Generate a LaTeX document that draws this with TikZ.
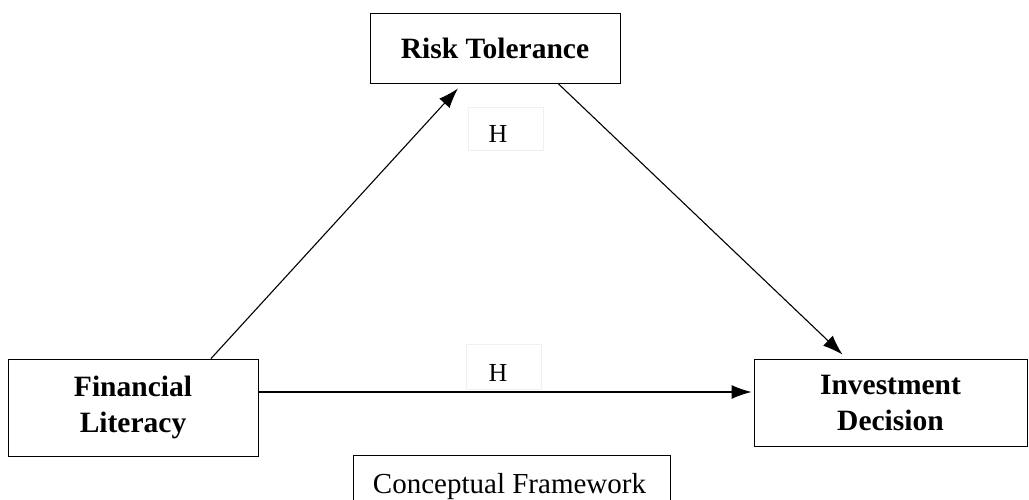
\documentclass[tikz,border=0pt]{standalone}
\usepackage{fontspec}
\setmainfont{Liberation Serif}
\usetikzlibrary{calc}
\usetikzlibrary{arrows.meta}

\begin{document}
\begin{tikzpicture}[x=1pt,y=-1pt,
                        varbox/.style={draw,line width=0.9pt,inner sep=0pt,align=center,
                        font=\fontsize{29.5}{36}\selectfont\bfseries},
                        hbox/.style={draw=gray!12,line width=0.8pt,inner sep=0pt,
                        minimum width=75pt,font=\fontsize{26}{28}\selectfont},
                        link/.style={line width=1.1pt,-{Latex[length=20pt,width=14pt]}}
                        ]
                        \useasboundingbox (0,0) rectangle (1029,499);
                        \clip (0,0) rectangle (1029,499);
                        % draw the three variables
                        \node[varbox,minimum width=250pt,minimum height=70pt] (risk) at (495,48) {Risk Tolerance};
                        \node[varbox,minimum width=250pt,minimum height=97pt] (lit) at (133,407.5) {Financial\\Literacy};
                        \node[varbox,minimum width=273pt,minimum height=87pt] (dec) at (890.5,402.5) {Investment\\Decision};

                        \node[hbox,minimum height=43pt] (h1) at (505.5,128.5) {\raisebox{-13.5pt}[0pt][0pt]{H}\kern15pt};
                        \node[hbox,minimum height=45pt] (h2) at (504,366.5) {\raisebox{-14.5pt}[0pt][0pt]{H}\kern12pt};

                        \draw[link] ([xshift=78pt]lit.north) -- ([xshift=-37pt,yshift=-5pt]risk.south);
                        \draw[link] ([xshift=63pt]risk.south) -- ([xshift=-48pt,yshift=4pt]dec.north);
                        \draw[link] ([yshift=15.5pt]lit.east) -- ([xshift=-2pt,yshift=10.5pt]dec.west);

                        % caption box, cut by the page edge
                        \node[draw,line width=0.9pt,minimum width=317.5pt,minimum height=70pt,anchor=north west,
                        inner sep=0pt] (cap) at (352.5,455) {};
                        \node[anchor=base,font=\fontsize{29}{32}\selectfont] (captxt) at (509.5,493) {Conceptual Framework};
                \end{tikzpicture}
\end{document}
